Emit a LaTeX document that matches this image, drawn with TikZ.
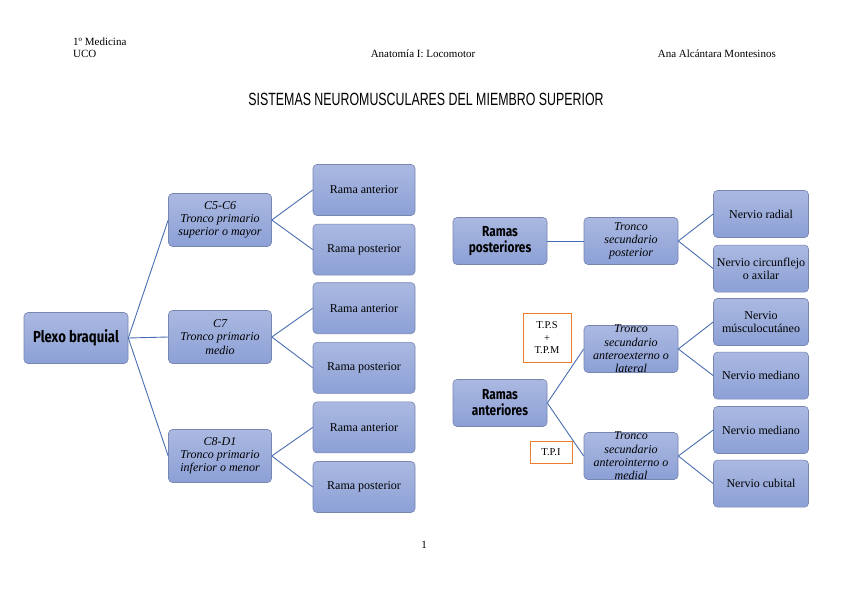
\documentclass[tikz,border=0pt]{standalone}
\usepackage{fontspec}
\setmainfont{Liberation Serif}
\newfontfamily\boxfont[FakeStretch=0.82]{Fira Sans}
\newfontfamily\titlefont[FakeStretch=0.70]{Liberation Sans}
\definecolor{boxtop}{HTML}{ABB9E1}
\definecolor{boxbot}{HTML}{8CA0D6}
\definecolor{boxline}{HTML}{7886B2}
\definecolor{linkblue}{HTML}{4A6EB2}
\definecolor{noteorange}{HTML}{ED7D31}
\usetikzlibrary{positioning}

\begin{document}
\begin{tikzpicture}[
    x=1pt, y=-1pt,
    box/.style={rectangle, rounded corners=4pt, draw=boxline, top color=boxtop, bottom color=boxbot, align=center, inner sep=1pt, line width=0.6pt},
    root/.style={box, minimum width=#1, minimum height=51pt, font=\boxfont\bfseries\fontsize{16}{18}\selectfont},
    subroot/.style={box, minimum width=#1, minimum height=47pt, font=\boxfont\bfseries\fontsize{14.5}{16}\selectfont},
    trunk/.style={box, minimum width=#1, font=\itshape\fontsize{12}{13.2}\selectfont},
    leaf/.style={box, minimum width=#1, font=\fontsize{12}{13.2}\selectfont},
    tight/.style={inner ysep=0pt, text height=47pt, text depth=0pt},
    note/.style={draw=noteorange, line width=0.9pt, align=center, font=\fontsize{10.5}{12.5}\selectfont, inner sep=2pt},
    link/.style={draw=linkblue, line width=0.9pt},
    hdr/.style={font=\fontsize{11}{12}\selectfont, inner sep=0pt},
]
    \useasboundingbox[fill=white] (0,0) rectangle (848,599);

    % header
    \node[hdr, anchor=base west] (curso) at (73,46) {1º Medicina};
    \node[hdr, anchor=base west] (uco) at (73,58) {UCO};
    \node[hdr, anchor=base] (asig) at (423,58) {Anatomía I: Locomotor};
    \node[hdr, anchor=base east] (autora) at (776,58) {Ana Alcántara Montesinos};
    \node[anchor=base, inner sep=0pt, font=\titlefont\fontsize{17.7}{20}\selectfont] (titulo) at (426,106) {SISTEMAS NEUROMUSCULARES DEL MIEMBRO SUPERIOR};
    \node[hdr, anchor=base] (pagina) at (424,548) {1};

    % plexo braquial
    \node[root=104pt] (plexo) at (76,338) {Plexo braquial};
    \node[trunk=103pt, minimum height=53pt] (c56) at (220,220) {C5-C6\\Tronco primario\\superior o mayor};
    \node[trunk=103pt, minimum height=53pt] (c7) at (220,337) {C7\\Tronco primario\\medio};
    \node[trunk=103pt, minimum height=53pt] (c8d1) at (220,456) {C8-D1\\Tronco primario\\inferior o menor};

    \node[leaf=102pt, minimum height=51pt] (ant1) at (364,190) {Rama anterior};
    \node[leaf=102pt, minimum height=51pt, below=8pt of ant1] (pos1) {Rama posterior};
    \node[leaf=102pt, minimum height=51pt, below=7pt of pos1] (ant2) {Rama anterior};
    \node[leaf=102pt, minimum height=51pt, below=8pt of ant2] (pos2) {Rama posterior};
    \node[leaf=102pt, minimum height=51pt, below=8pt of pos2] (ant3) {Rama anterior};
    \node[leaf=102pt, minimum height=51pt, below=8pt of ant3] (pos3) {Rama posterior};

    \draw[link] (plexo.east) -- (c56.west);
    \draw[link] (plexo.east) -- (c7.west);
    \draw[link] (plexo.east) -- (c8d1.west);
    \draw[link] (c56.east) -- (ant1.west);
    \draw[link] (c56.east) -- (pos1.west);
    \draw[link] (c7.east) -- (ant2.west);
    \draw[link] (c7.east) -- (pos2.west);
    \draw[link] (c8d1.east) -- (ant3.west);
    \draw[link] (c8d1.east) -- (pos3.west);

    % ramas posteriores y anteriores
    \node[subroot=94pt] (rpost) at (500,241) {Ramas\\posteriores};
    \node[trunk=94pt, minimum height=47pt] (tsp) at (631,241) {Tronco\\secundario\\posterior};
    \node[leaf=95pt, minimum height=47pt] (radial) at (761,214) {Nervio radial};
    \node[leaf=95pt, minimum height=47pt, below=7pt of radial] (axilar) {Nervio circunflejo\\o axilar};

    \node[subroot=94pt] (rant) at (500,403) {Ramas\\anteriores};
    \node[trunk=94pt, minimum height=47pt, tight] (tsae) at (631,349) {Tronco\\secundario\\anteroexterno o\\lateral};
    \node[trunk=94pt, minimum height=47pt, tight] (tsai) at (631,456) {Tronco\\secundario\\anterointerno o\\medial};
    \node[leaf=95pt, minimum height=47pt] (muscu) at (761,322) {Nervio\\músculocutáneo};
    \node[leaf=95pt, minimum height=47pt, below=6pt of muscu] (med1) {Nervio mediano};
    \node[leaf=95pt, minimum height=47pt] (med2) at (761,430) {Nervio mediano};
    \node[leaf=95pt, minimum height=47pt, below=6pt of med2] (cubital) {Nervio cubital};

    \node[note, minimum width=48pt, minimum height=49pt] (tps) at (547,338) {T.P.S\\+\\T.P.M};
    \node[note, minimum width=42pt, minimum height=22pt] (tpi) at (551,452) {T.P.I};

    \draw[link] (rpost.east) -- (tsp.west);
    \draw[link] (tsp.east) -- (radial.west);
    \draw[link] (tsp.east) -- (axilar.west);
    \draw[link] (rant.east) -- (tsae.west);
    \draw[link] (rant.east) -- (tsai.west);
    \draw[link] (tsae.east) -- (muscu.west);
    \draw[link] (tsae.east) -- (med1.west);
    \draw[link] (tsai.east) -- (med2.west);
    \draw[link] (tsai.east) -- (cubital.west);
\end{tikzpicture}
\end{document}
